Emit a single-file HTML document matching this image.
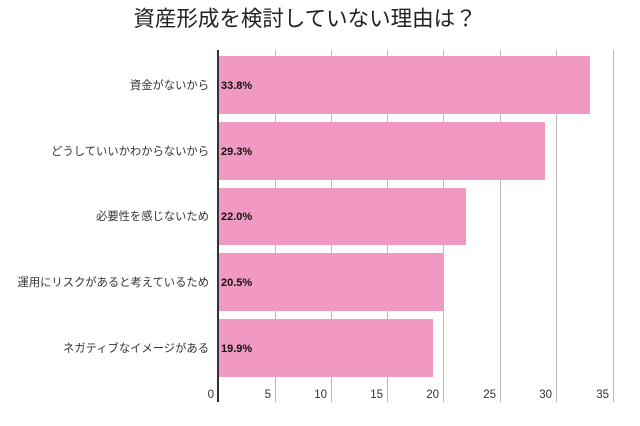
<!DOCTYPE html>
<html><head><meta charset="utf-8"><style>
body{margin:0;background:#fff;}
svg text{font-family:"Liberation Sans","Noto Sans CJK JP",sans-serif;}
</style></head><body>
<svg width="640" height="421" xmlns="http://www.w3.org/2000/svg">
<text x="305" y="26" font-size="21.5" fill="#222" text-anchor="middle">資産形成を検討していない理由は？</text>
<g stroke="#bbb" stroke-width="1">
<line x1="275.5" y1="50" x2="275.5" y2="402"/>
<line x1="331.5" y1="50" x2="331.5" y2="402"/>
<line x1="387.5" y1="50" x2="387.5" y2="402"/>
<line x1="443.5" y1="50" x2="443.5" y2="402"/>
<line x1="500.5" y1="50" x2="500.5" y2="402"/>
<line x1="556.5" y1="50" x2="556.5" y2="402"/>
<line x1="613.5" y1="50" x2="613.5" y2="402"/>
</g>
<g fill="#f09ac3">
<rect x="218" y="56" width="372" height="58"/>
<rect x="218" y="122" width="327" height="58"/>
<rect x="218" y="188" width="248" height="57"/>
<rect x="218" y="253" width="225" height="58"/>
<rect x="218" y="319" width="215" height="58"/>
</g>
<line x1="218" y1="50" x2="218" y2="402" stroke="#333" stroke-width="2"/>
<g font-size="11" fill="#111" font-weight="bold">
<text x="221" y="89">33.8%</text>
<text x="221" y="155">29.3%</text>
<text x="221" y="220">22.0%</text>
<text x="221" y="286">20.5%</text>
<text x="221" y="352">19.9%</text>
</g>
<g font-size="11.3" fill="#333" text-anchor="end">
<text x="209" y="89">資金がないから</text>
<text x="209" y="155">どうしていいかわからないから</text>
<text x="209" y="220">必要性を感じないため</text>
<text x="209" y="286">運用にリスクがあると考えているため</text>
<text x="209" y="352">ネガティブなイメージがある</text>
</g>
<g font-size="11.5" fill="#333" text-anchor="end">
<text x="214" y="398">0</text>
<text x="271" y="398">5</text>
<text x="327" y="398">10</text>
<text x="383" y="398">15</text>
<text x="439" y="398">20</text>
<text x="496" y="398">25</text>
<text x="552" y="398">30</text>
<text x="609" y="398">35</text>
</g>
</svg>
</body></html>
